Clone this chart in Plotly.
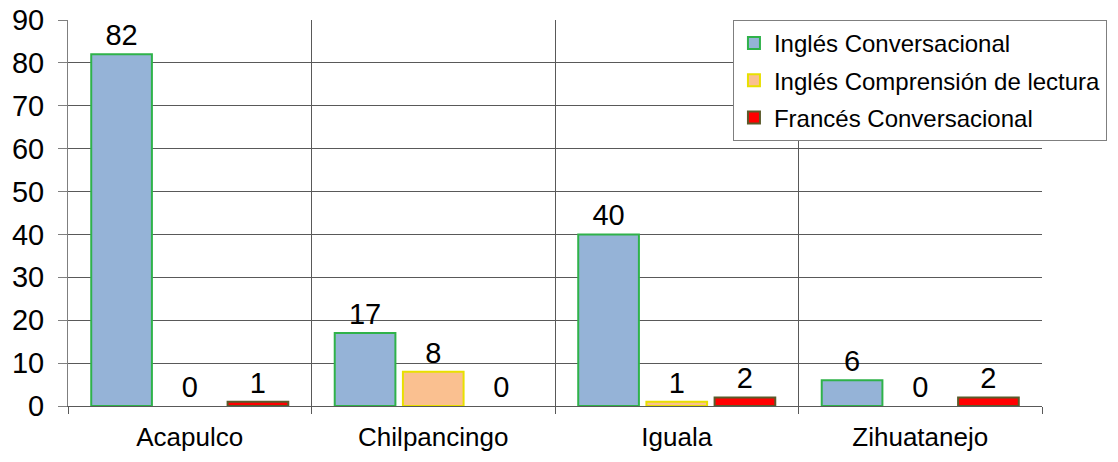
import plotly.graph_objects as go

sedes = ["Acapulco", "Chilpancingo", "Iguala", "Zihuatanejo"]
ingles_conv = [82, 17, 40, 6]
ingles_lect = [0, 8, 1, 0]
frances_conv = [1, 0, 2, 2]

series = [
    ("Inglés Conversacional", ingles_conv, "#95B3D7", "#2FB24A"),
    ("Inglés Comprensión de lectura", ingles_lect, "#FAC090", "#E8E000"),
    ("Francés Conversacional", frances_conv, "#FF0000", "#5B5A2A"),
]

fig = go.Figure()
for i, (name, vals, fill, edge) in enumerate(series):
    # zero bars get no outline, so the legend swatch comes from an empty twin trace
    fig.add_trace(go.Bar(
        x=sedes, y=vals, name=name, showlegend=False, offsetgroup=str(i),
        marker=dict(color=fill,
                    line=dict(color=edge, width=[0 if v == 0 else 2 for v in vals])),
        text=vals, textposition="outside",
        textfont=dict(size=29, color="#000000"),
        cliponaxis=False,
    ))
    fig.add_trace(go.Bar(
        x=[None], y=[None], name=name, legendgroup=str(i), offsetgroup=str(i),
        marker=dict(color=fill, line=dict(color=edge, width=2)),
    ))

fig.update_layout(
    width=1118, height=462,
    margin=dict(l=68, r=75, t=20, b=56),
    paper_bgcolor="white", plot_bgcolor="white",
    font=dict(family="Liberation Sans, Arial, sans-serif", color="#000000"),
    barmode="group", bargap=0.16, bargroupgap=0.11,
    showlegend=True,
    legend=dict(
        x=0.682, y=1, xanchor="left", yanchor="top",
        bgcolor="white", bordercolor="#7f7f7f", borderwidth=1,
        font=dict(size=24), tracegroupgap=3,
    ),
)

fig.update_xaxes(
    type="category", tickson="boundaries", showgrid=True,
    gridcolor="#595959", gridwidth=1,
    ticks="outside", ticklen=7, tickcolor="#595959",
    showline=True, linecolor="#595959",
    tickfont=dict(size=26), ticklabelstandoff=8,
    automargin=False,
)
fig.update_yaxes(
    range=[0, 90], dtick=10, showgrid=True,
    gridcolor="#595959", gridwidth=1,
    ticks="outside", ticklen=9, tickcolor="#7f7f7f",
    showline=True, linecolor="#7f7f7f",
    tickfont=dict(size=29), ticklabelstandoff=8,
    zeroline=False, automargin=False,
)

# drop the browser's default body margin so the figure sits at the page corner
fig.write_html("out.html", config={"displayModeBar": False},
               post_script="document.body.style.margin='0';")
